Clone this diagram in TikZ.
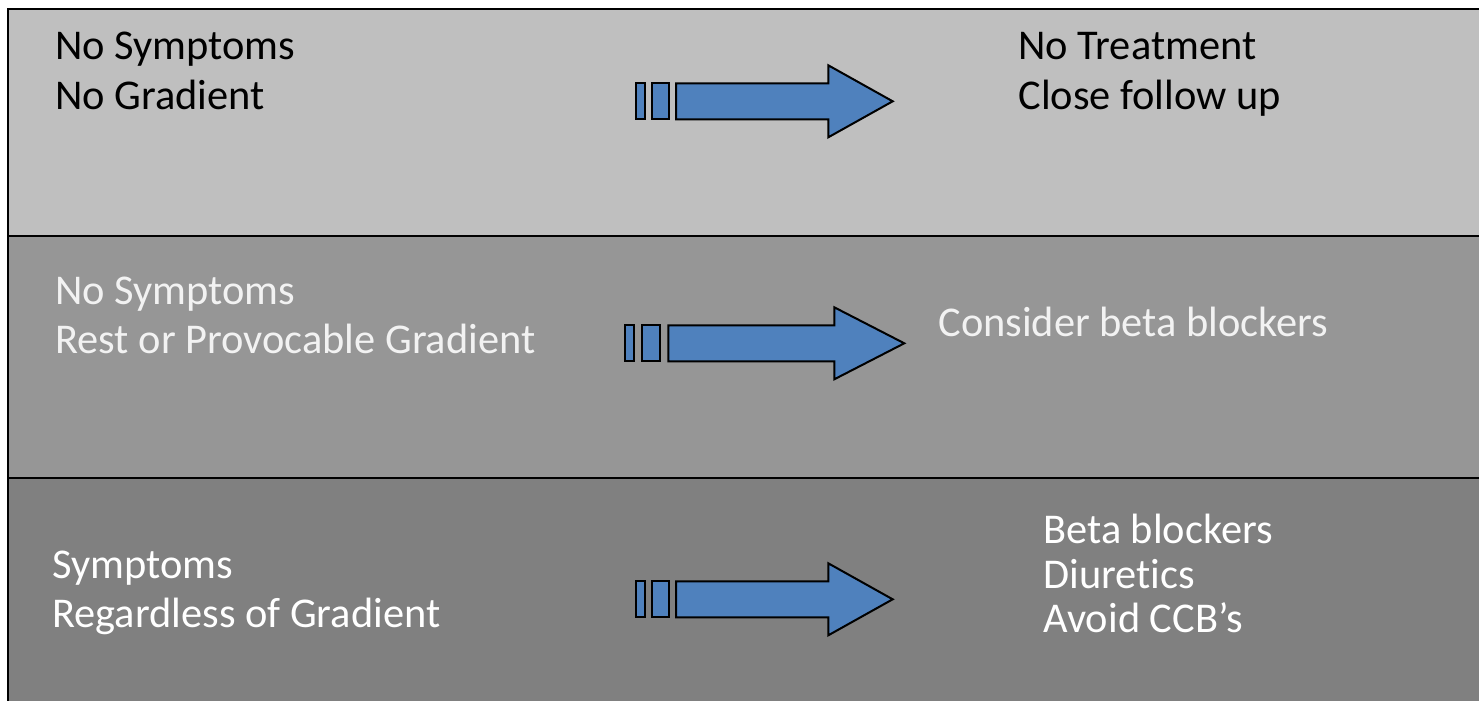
\documentclass[tikz,border=0pt]{standalone}
\usepackage{fontspec}
\setmainfont{Carlito}[Ligatures={NoCommon}]
\definecolor{bandA}{HTML}{BFBFBF}
\definecolor{bandB}{HTML}{969696}
\definecolor{bandC}{HTML}{808080}
\definecolor{arrowblue}{HTML}{4F81BD}
\definecolor{paletxt}{HTML}{F2F2F2}
\tikzset{
  lbl/.style={anchor=base west, inner sep=0pt, font=\fontsize{21.2pt}{25pt}\selectfont},
  sarrow/.style={fill=arrowblue, draw=black, line width=1pt, line join=miter},
  border/.style={draw=black, line width=1pt}
}
\newcommand{\stripedarr}[9]{%
  % #1 bar1 x0, #2 bar1 x1, #3 bar2 x0, #4 bar2 x1, #5 body x0, #6 head x, #7 tip x, #8 center y, #9 name
  \draw[sarrow] (#1,#8-18) rectangle (#2,#8+18);
  \draw[sarrow] (#3,#8-18) rectangle (#4,#8+18);
  \draw[sarrow] (#5,#8-18) -- (#6,#8-18) -- (#6,#8-36) -- (#7,#8) -- (#6,#8+36) -- (#6,#8+18) -- (#5,#8+18) -- cycle;
  \coordinate (#9) at (#7,#8);
}
\begin{document}
\begin{tikzpicture}[x=0.5pt,y=-0.5pt]
\useasboundingbox (0,0) rectangle (1479,701);
\fill[white] (0,0) rectangle (1479,701);
% bands
\fill[bandA] (8,9) rectangle (1479,236);
\fill[bandB] (8,236) rectangle (1479,478);
\fill[bandC] (8,478) rectangle (1479,701);
\draw[border] (1479,9) -- (8,9) -- (8,701);
\draw[border] (8,236) -- (1479,236);
\draw[border] (8,478) -- (1479,478);
% arrows
\stripedarr{636}{644.7}{652}{668.7}{676}{828.3}{892.7}{101.3}{tipA}
\stripedarr{624.7}{634}{642}{660}{668.3}{834.3}{904.3}{343.3}{tipB}
\stripedarr{636}{644.7}{652}{668.7}{676}{828.3}{892.7}{599.3}{tipC}
% top band text
\node[lbl] (a1) at (55,60) {No Symptoms};
\node[lbl] (a2) at (55,110) {No Gradient};
\node[lbl] (a3) at (1018,60) {No Treatment};
\node[lbl] (a4) at (1018,110) {Close follow up};
% middle band text
\node[lbl, text=paletxt] (b1) at (55,304) {No Symptoms};
\node[lbl, text=paletxt] (b2) at (55,353.5) {Rest or Provocable Gradient};
\node[lbl, text=paletxt] (b3) at (938,336.7) {Consider beta blockers};
% bottom band text
\node[lbl, text=white] (c1) at (52,578) {Symptoms};
\node[lbl, text=white] (c2) at (52,627) {Regardless of Gradient};
\node[lbl, text=white] (c3) at (1043,543) {Beta blockers};
\node[lbl, text=white] (c4) at (1043,588) {Diuretics};
\node[lbl, text=white] (c5) at (1043,632) {Avoid CCB’s};
\end{tikzpicture}
\end{document}
